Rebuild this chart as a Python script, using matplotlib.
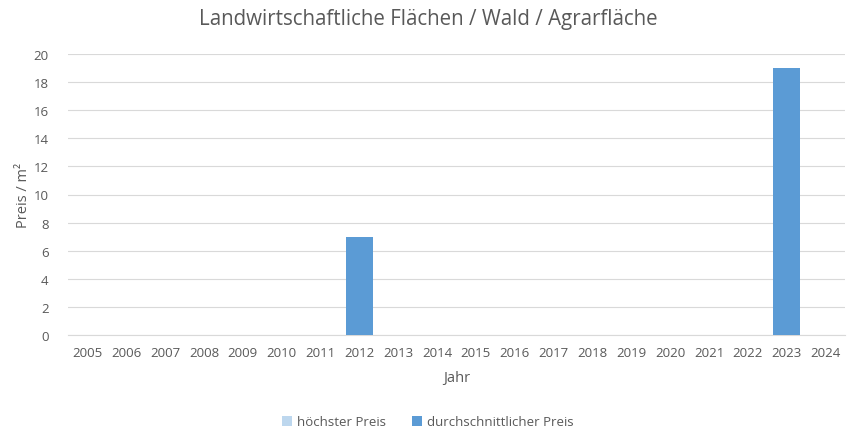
import matplotlib
matplotlib.use("Agg")
import matplotlib.pyplot as plt
import numpy as np

years = [str(y) for y in range(2005, 2025)]
hoechster = [0]*20
durchschnitt = [0, 0, 0, 0, 0, 0, 0, 7, 0, 0, 0, 0, 0, 0, 0, 0, 0, 0, 19, 0]

plt.rcParams['font.family'] = ['Open Sans', 'DejaVu Sans']
txt = '#595959'

fig = plt.figure(figsize=(8.56, 4.35), dpi=100)
ax = fig.add_axes([68/856, 1-336/435, (845-68)/856, (336-55)/435])
x = np.arange(len(years))
ax.bar(x, hoechster, width=0.69, color='#BDD7EE', label='höchster Preis', zorder=2)
ax.bar(x, durchschnitt, width=0.69, color='#5B9BD5', label='durchschnittlicher Preis', zorder=3)

ax.set_xlim(-0.5, len(years)-0.5)
ax.set_ylim(0, 20)
ax.set_yticks(range(0, 21, 2))
ax.set_xticks(x)
ax.set_xticklabels(years)
ax.tick_params(axis='both', length=0, colors=txt, labelsize=9.5)
ax.tick_params(axis='x', pad=8)
ax.tick_params(axis='y', pad=14)
ax.grid(axis='y', color='#D9D9D9', linewidth=0.8, zorder=0)
for s in ['top', 'right', 'left']:
    ax.spines[s].set_visible(False)
ax.spines['bottom'].set_color('#D9D9D9')
ax.set_xlabel('Jahr', color=txt, fontsize=10.5, labelpad=8)
ax.set_ylabel('Preis / m²', color=txt, fontsize=10.5, labelpad=2)

fig.text(0.5, 1-20/435, 'Landwirtschaftliche Flächen / Wald / Agrarfläche',
         ha='center', va='center', fontsize=14.8, color=txt)

leg = fig.legend(loc='center', bbox_to_anchor=(0.5, 1-423/435), ncol=2, frameon=False,
                 fontsize=9.5, handlelength=0.7, handleheight=0.7, columnspacing=2.0,
                 handletextpad=0.4)
for t in leg.get_texts():
    t.set_color(txt)

fig.savefig('out.png', dpi=100)
